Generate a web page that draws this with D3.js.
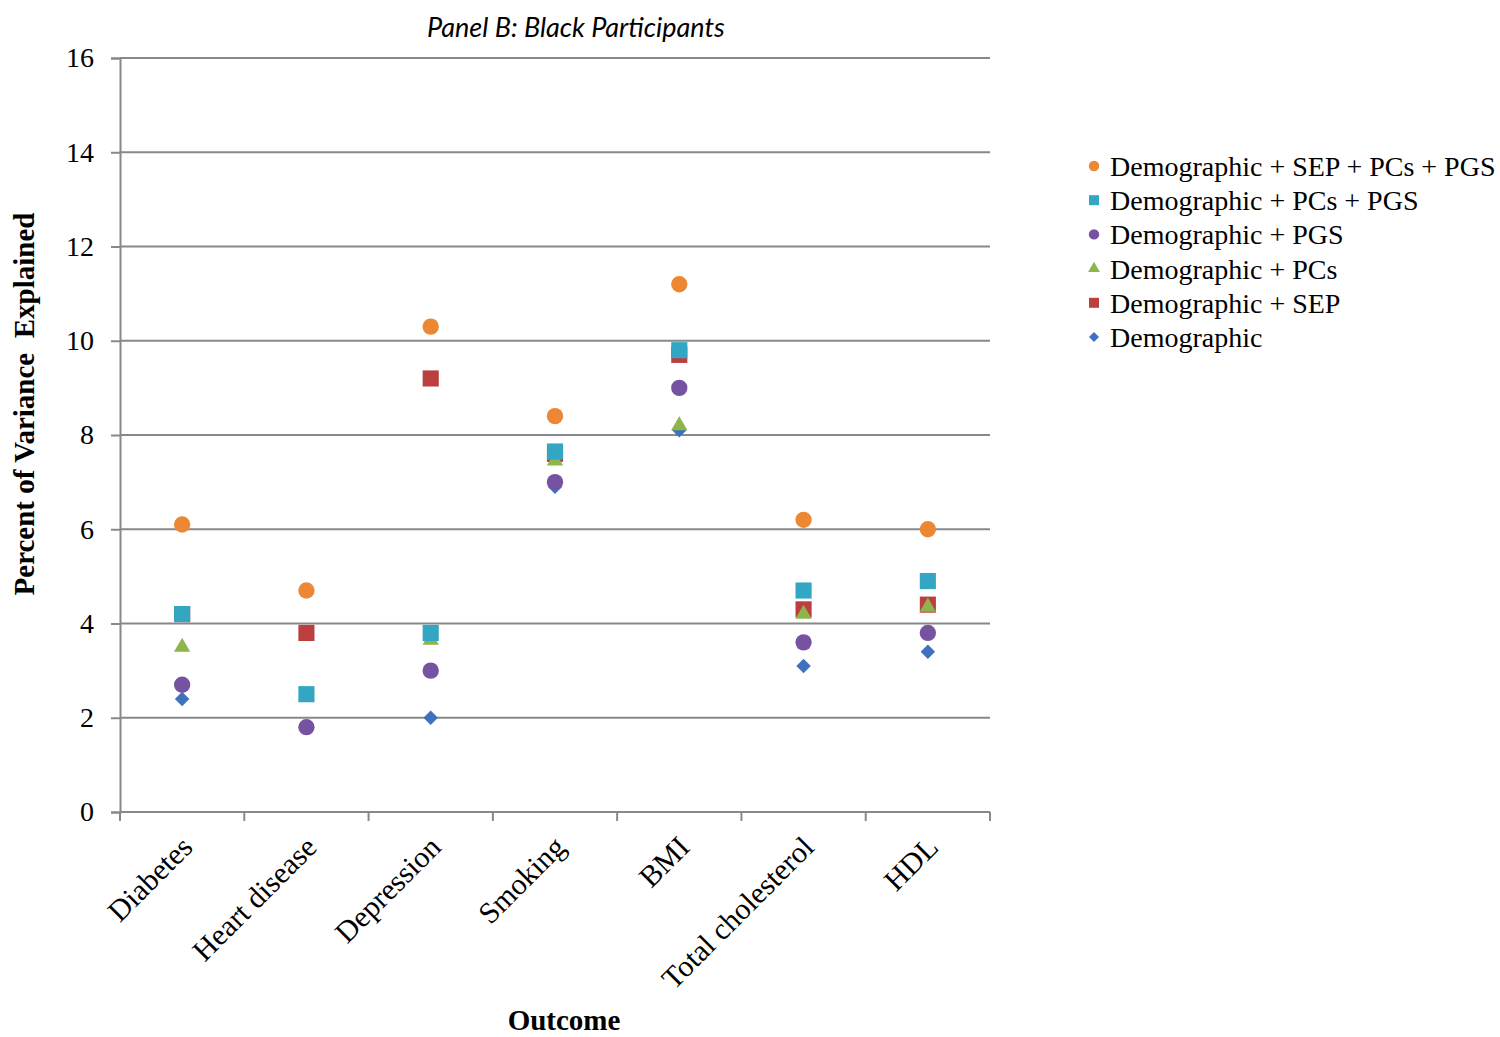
<!DOCTYPE html>
<html>
<head>
<meta charset="utf-8">
<script src="https://cdn.jsdelivr.net/npm/d3@7"></script>
<style>
  body { margin: 0; background: #fff; }
  svg { display: block; }
</style>
</head>
<body>
<svg id="chart" width="1500" height="1037"></svg>
<script>
const categories = ['Diabetes', 'Heart disease', 'Depression', 'Smoking', 'BMI', 'Total cholesterol', 'HDL'];
const yTicks = [0, 2, 4, 6, 8, 10, 12, 14, 16];

// legend order (top to bottom)
const seriesNames = [
  'Demographic + SEP + PCs + PGS',
  'Demographic + PCs + PGS',
  'Demographic + PGS',
  'Demographic + PCs',
  'Demographic + SEP',
  'Demographic'
];
const allModel = [6.1, 4.7, 10.3, 8.4, 11.2, 6.2, 6.0];
const pcsPgs   = [4.2, 2.5, 3.8, 7.65, 9.8, 4.7, 4.9];
const pgsOnly  = [2.7, 1.8, 3.0, 7.0, 9.0, 3.6, 3.8];
const pcsOnly  = [3.5, 2.48, 3.65, 7.45, 8.2, 4.2, 4.35];
const sepOnly  = [4.2, 3.8, 9.2, 7.6, 9.7, 4.3, 4.4];
const demoOnly = [2.4, 1.8, 2.0, 6.9, 8.1, 3.1, 3.4];
const seriesValues = [allModel, pcsPgs, pgsOnly, pcsOnly, sepOnly, demoOnly];
const seriesColors = ['#EC8833', '#33A6C4', '#7653A1', '#8DB54B', '#BC3F40', '#3F72BD'];
const seriesShapes = ['circle', 'square', 'circle', 'triangle', 'square', 'diamond'];

const svg = d3.select('#chart');
const plotLeft = 120, plotRight = 990, plotTop = 58, plotBottom = 812;
const serif = '"Liberation Serif", "Times New Roman", serif';

const x = d3.scaleBand().domain(categories).range([plotLeft, plotRight]).padding(0);
const y = d3.scaleLinear().domain([0, 16]).range([plotBottom, plotTop]);

// diamond = square turned 45 degrees
const symbolOf = {
  circle: d3.symbolCircle,
  square: d3.symbolSquare,
  triangle: d3.symbolTriangle,
  diamond: d3.symbolSquare
};
const sizeOf = { circle: 210, square: 260, triangle: 115, diamond: 105 };
const legendSize = { circle: 85, square: 100, triangle: 60, diamond: 50 };
const rot = s => (s === 'diamond' ? ' rotate(45)' : '');

// gridlines
svg.append('g')
  .selectAll('line')
  .data(yTicks.filter(d => d > 0))
  .enter()
  .append('line')
  .attr('x1', plotLeft).attr('x2', plotRight)
  .attr('y1', d => y(d)).attr('y2', d => y(d))
  .attr('stroke', '#888')
  .attr('stroke-width', 2);

// y axis
const yAxis = svg.append('g')
  .attr('transform', 'translate(' + plotLeft + ',0)')
  .call(d3.axisLeft(y).tickValues(yTicks).tickSize(9).tickPadding(17));
yAxis.select('.domain').attr('stroke', '#888').attr('stroke-width', 2);
yAxis.selectAll('.tick line').attr('stroke', '#888').attr('stroke-width', 2);
yAxis.selectAll('text')
  .style('font-family', serif)
  .style('font-size', '28px')
  .attr('fill', '#000');

// x axis line + boundary ticks
svg.append('line')
  .attr('x1', plotLeft).attr('x2', plotRight)
  .attr('y1', plotBottom).attr('y2', plotBottom)
  .attr('stroke', '#888').attr('stroke-width', 2);
svg.append('g')
  .selectAll('line')
  .data(categories.map(c => x(c)).concat([plotRight]))
  .enter()
  .append('line')
  .attr('x1', d => d).attr('x2', d => d)
  .attr('y1', plotBottom).attr('y2', plotBottom + 9)
  .attr('stroke', '#888').attr('stroke-width', 2);

// category labels
svg.append('g')
  .selectAll('text')
  .data(categories)
  .enter()
  .append('text')
  .attr('transform', d => 'translate(' + (x(d) + x.bandwidth() / 2 + 12) + ',' + (plotBottom + 37) + ') rotate(-45)')
  .attr('text-anchor', 'end')
  .style('font-family', serif)
  .style('font-size', '30px')
  .text(d => d);

// points: draw in reverse legend order so the first series lands on top
const order = d3.range(seriesNames.length).reverse();
order.forEach(i => {
  const shape = seriesShapes[i];
  svg.append('g')
    .selectAll('path')
    .data(seriesValues[i].map((v, j) => ({ cat: categories[j], v: v })))
    .enter()
    .append('path')
    .attr('d', d3.symbol().type(symbolOf[shape]).size(sizeOf[shape]))
    .attr('transform', d => 'translate(' + (x(d.cat) + x.bandwidth() / 2) + ',' + y(d.v) + ')' + rot(shape))
    .attr('fill', seriesColors[i]);
});

// title
svg.append('text')
  .attr('x', 576).attr('y', 37)
  .attr('text-anchor', 'middle')
  .style('font-family', 'Lato, "Open Sans", sans-serif')
  .style('font-style', 'italic')
  .style('font-size', '27px')
  .text('Panel B: Black Participants');

// axis titles
svg.append('text')
  .attr('transform', 'translate(34,' + 404 + ') rotate(-90)')
  .attr('text-anchor', 'middle')
  .style('font-family', serif)
  .style('font-weight', 'bold')
  .style('font-size', '29px')
  .style('white-space', 'pre')
  .text('Percent of Variance  Explained');

svg.append('text')
  .attr('x', 564).attr('y', 1030)
  .attr('text-anchor', 'middle')
  .style('font-family', serif)
  .style('font-weight', 'bold')
  .style('font-size', '29px')
  .text('Outcome');

// legend
const legend = svg.append('g').attr('transform', 'translate(1094,166)');
seriesNames.forEach((name, i) => {
  const shape = seriesShapes[i];
  const row = legend.append('g').attr('transform', 'translate(0,' + (i * 34.2) + ')');
  row.append('path')
    .attr('d', d3.symbol().type(symbolOf[shape]).size(legendSize[shape]))
    .attr('transform', rot(shape))
    .attr('fill', seriesColors[i]);
  row.append('text')
    .attr('x', 16).attr('y', 10)
    .style('font-family', serif)
    .style('font-size', '28px')
    .text(name);
});
</script>
</body>
</html>
